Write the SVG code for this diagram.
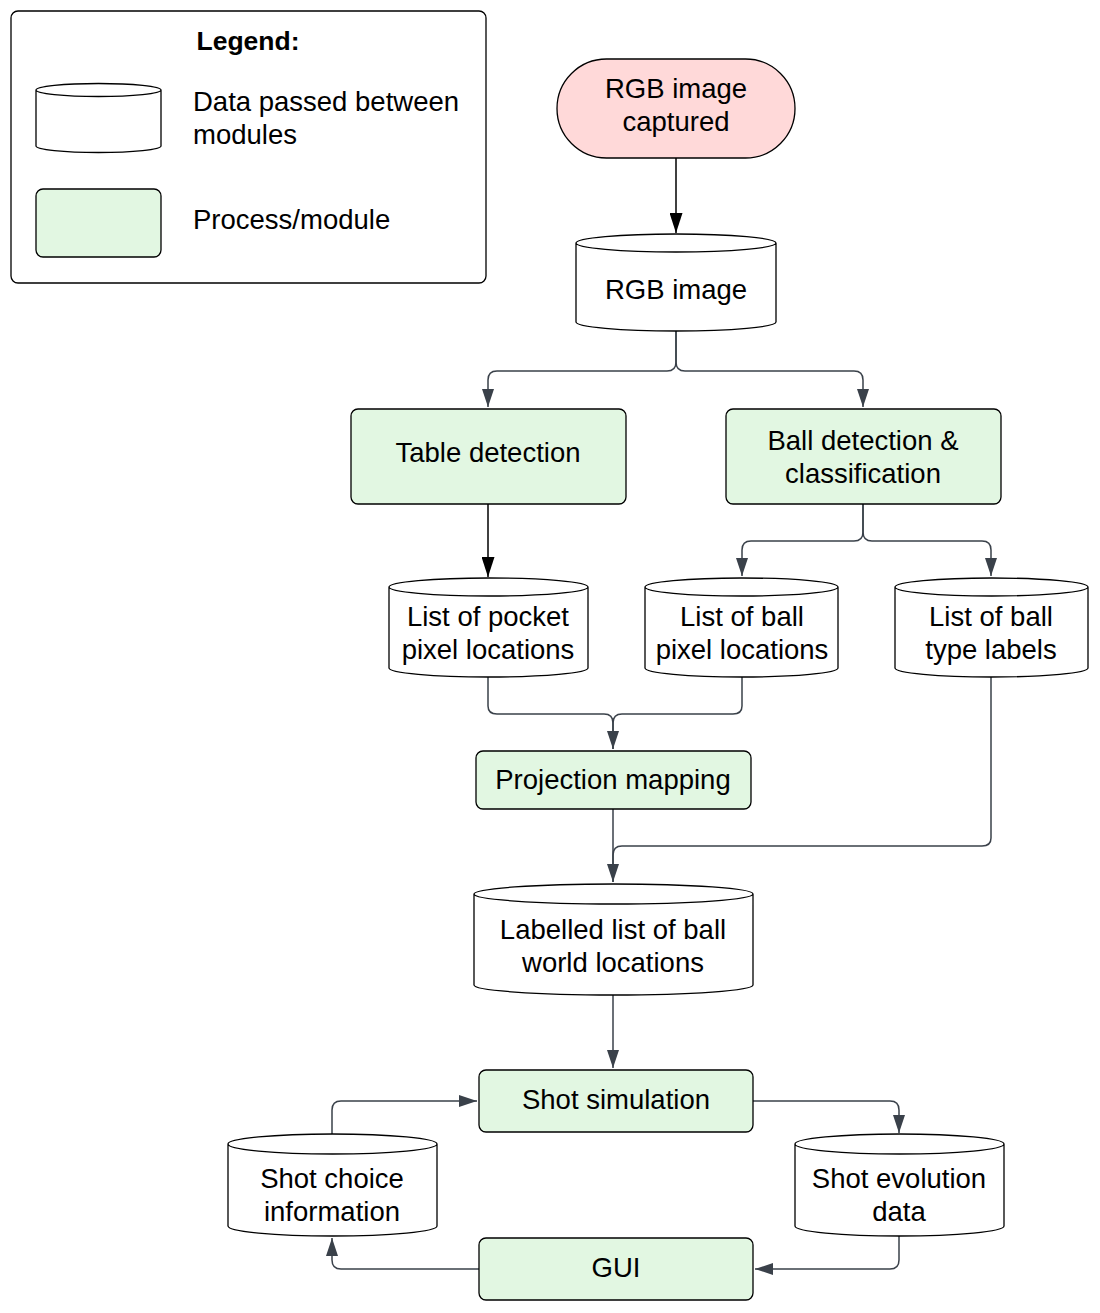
<svg xmlns="http://www.w3.org/2000/svg" width="1100" height="1313" viewBox="0 0 1100 1313">
<style>
text{font-family:"Liberation Sans",Arial,sans-serif;font-size:27.5px;fill:#000}
.c{text-anchor:middle}
.proc{fill:#e2f7e2;stroke:#000;stroke-width:1.3}
.cyl{fill:#fff;stroke:#000;stroke-width:1.3}
.ln{fill:none;stroke:#3a414a;stroke-width:1.5}
.lnb{fill:none;stroke:#000;stroke-width:1.5}
</style>
<defs>
<marker id="ag" viewBox="0 0 18 12" refX="18" refY="6" markerWidth="18" markerHeight="12" markerUnits="userSpaceOnUse" orient="auto"><path d="M0,0 L18,6 L0,12 Z" fill="#3a414a"/></marker>
<marker id="ab" viewBox="0 0 20 13" refX="20" refY="6.5" markerWidth="20" markerHeight="13" markerUnits="userSpaceOnUse" orient="auto"><path d="M0,0 L20,6.5 L0,13 Z" fill="#000"/></marker>
</defs>
<rect width="1100" height="1313" fill="#fff"/>

<g id="legend">
<rect x="11" y="11" width="475" height="272" rx="7" fill="#fff" stroke="#000" stroke-width="1.3"/>
<text x="248" y="50" class="c" style="font-weight:bold;font-size:26.5px">Legend:</text>
<path class="cyl" d="M36,90 A62.5,6.5 0 0 1 161,90 V146 A62.5,6.5 0 0 1 36,146 Z M36,90 A62.5,6.5 0 0 0 161,90"/>
<text x="193" y="111">Data passed between</text>
<text x="193" y="144">modules</text>
<rect class="proc" x="36" y="189" width="125" height="68" rx="7"/>
<text x="193" y="229">Process/module</text>
</g>

<g id="connectors">
<path class="lnb" d="M676,158 V233" marker-end="url(#ab)"/>
<path class="ln" d="M676,331 V362 Q676,371 667,371 H497 Q488,371 488,380 V407" marker-end="url(#ag)"/>
<path class="ln" d="M676,331 V362 Q676,371 685,371 H854 Q863,371 863,380 V407" marker-end="url(#ag)"/>
<path class="lnb" d="M488,504 V577" marker-end="url(#ab)"/>
<path class="ln" d="M863,504 V532 Q863,541 854,541 H751 Q742,541 742,550 V576" marker-end="url(#ag)"/>
<path class="ln" d="M863,504 V532 Q863,541 872,541 H982 Q991,541 991,550 V576" marker-end="url(#ag)"/>
<path class="ln" d="M488,677 V706 Q488,714 497,714 H604 Q613,714 613,723 V749" marker-end="url(#ag)"/>
<path class="ln" d="M742,677 V706 Q742,714 733,714 H622 Q613,714 613,723 V749"/>
<path class="ln" d="M613,809 V882" marker-end="url(#ag)"/>
<path class="ln" d="M991,677 V838 Q991,846 982,846 H622 Q613,846 613,855 V882"/>
<path class="ln" d="M613,995 V1068" marker-end="url(#ag)"/>
<path class="ln" d="M332,1134 V1110 Q332,1101 341,1101 H477" marker-end="url(#ag)"/>
<path class="ln" d="M753,1101 H890 Q899,1101 899,1110 V1133" marker-end="url(#ag)"/>
<path class="ln" d="M899,1236 V1260 Q899,1269 890,1269 H755" marker-end="url(#ag)"/>
<path class="ln" d="M479,1269 H341 Q332,1269 332,1260 V1238" marker-end="url(#ag)"/>
</g>

<g id="start">
<rect x="557" y="59" width="238" height="99" rx="49.5" fill="#ffd9d9" stroke="#000" stroke-width="1.3"/>
<text x="676" y="98" class="c">RGB image</text>
<text x="676" y="131" class="c">captured</text>
</g>

<g id="rgb-image">
<path class="cyl" d="M576,243 A100,9 0 0 1 776,243 V322 A100,9 0 0 1 576,322 Z M576,243 A100,9 0 0 0 776,243"/>
<text x="676" y="299" class="c">RGB image</text>
</g>

<g id="table-detection">
<rect class="proc" x="351" y="409" width="275" height="95" rx="7"/>
<text x="488" y="462" class="c">Table detection</text>
</g>

<g id="ball-detection">
<rect class="proc" x="726" y="409" width="275" height="95" rx="7"/>
<text x="863" y="450" class="c">Ball detection &amp;</text>
<text x="863" y="483" class="c">classification</text>
</g>

<g id="pocket-list">
<path class="cyl" d="M389,587 A99.5,9 0 0 1 588,587 V668 A99.5,9 0 0 1 389,668 Z M389,587 A99.5,9 0 0 0 588,587"/>
<text x="488" y="626" class="c">List of pocket</text>
<text x="488" y="659" class="c">pixel locations</text>
</g>

<g id="ball-pixel-list">
<path class="cyl" d="M645,587 A96.5,9 0 0 1 838,587 V668 A96.5,9 0 0 1 645,668 Z M645,587 A96.5,9 0 0 0 838,587"/>
<text x="742" y="626" class="c">List of ball</text>
<text x="742" y="659" class="c">pixel locations</text>
</g>

<g id="ball-type-list">
<path class="cyl" d="M895,587 A96.5,9 0 0 1 1088,587 V668 A96.5,9 0 0 1 895,668 Z M895,587 A96.5,9 0 0 0 1088,587"/>
<text x="991" y="626" class="c">List of ball</text>
<text x="991" y="659" class="c">type labels</text>
</g>

<g id="projection">
<rect class="proc" x="476" y="751" width="275" height="58" rx="7"/>
<text x="613" y="789" class="c">Projection mapping</text>
</g>

<g id="world-list">
<path class="cyl" d="M474,894 A139.5,10 0 0 1 753,894 V985 A139.5,10 0 0 1 474,985 Z M474,894 A139.5,10 0 0 0 753,894"/>
<text x="613" y="939" class="c">Labelled list of ball</text>
<text x="613" y="972" class="c">world locations</text>
</g>

<g id="shot-simulation">
<rect class="proc" x="479" y="1070" width="274" height="62" rx="7"/>
<text x="616" y="1109" class="c">Shot simulation</text>
</g>

<g id="shot-choice">
<path class="cyl" d="M228,1144 A104.5,10 0 0 1 437,1144 V1226 A104.5,10 0 0 1 228,1226 Z M228,1144 A104.5,10 0 0 0 437,1144"/>
<text x="332" y="1188" class="c">Shot choice</text>
<text x="332" y="1221" class="c">information</text>
</g>

<g id="shot-evolution">
<path class="cyl" d="M795,1144 A104.5,10 0 0 1 1004,1144 V1226 A104.5,10 0 0 1 795,1226 Z M795,1144 A104.5,10 0 0 0 1004,1144"/>
<text x="899" y="1188" class="c">Shot evolution</text>
<text x="899" y="1221" class="c">data</text>
</g>

<g id="gui">
<rect class="proc" x="479" y="1238" width="274" height="62" rx="7"/>
<text x="616" y="1277" class="c">GUI</text>
</g>
</svg>
